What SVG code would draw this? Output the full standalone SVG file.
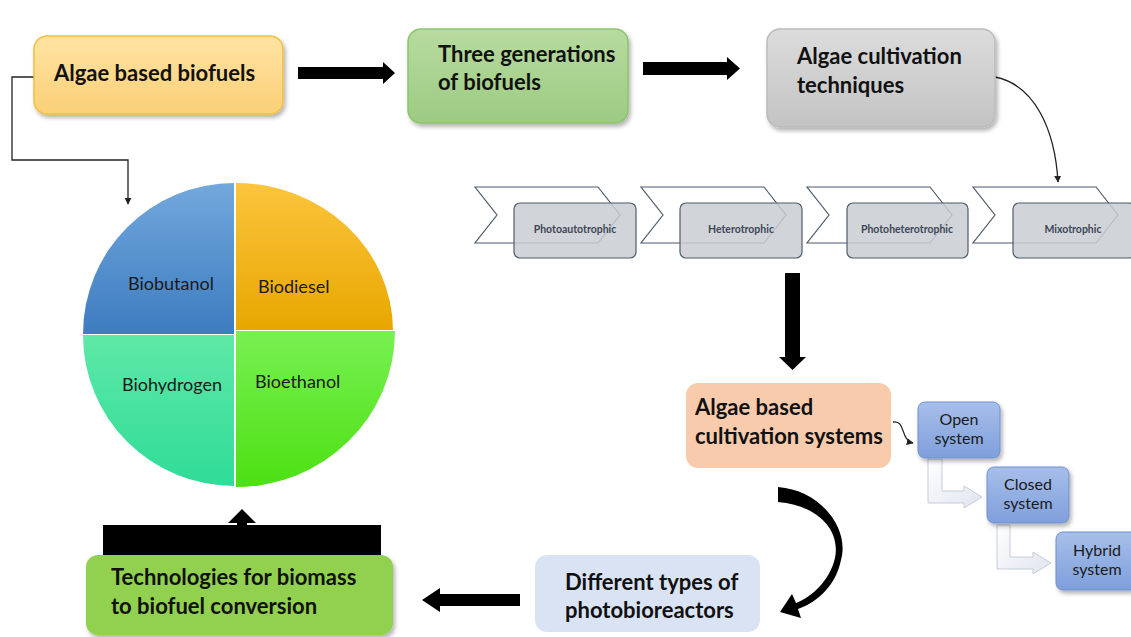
<svg xmlns="http://www.w3.org/2000/svg" width="1131" height="637" viewBox="0 0 1131 637">
<defs>
<style>
.t{font-family:Lato,"Liberation Sans",sans-serif;font-weight:bold;font-size:22px;fill:#111}
.p{font-family:Lato,"Liberation Sans",sans-serif;font-size:18px;fill:#1a1a1a}
.c{font-family:Lato,"Liberation Sans",sans-serif;font-weight:bold;font-size:10.5px;fill:#3d4757;text-anchor:middle}
.b{font-family:Lato,"Liberation Sans",sans-serif;font-size:16px;fill:#1a1a1a;text-anchor:middle}
.chev{fill:#fff;stroke:#4f5b6b;stroke-width:1.2}
.crect{fill:#c9ccd2;fill-opacity:0.85;stroke:#4f5b6b;stroke-width:1.2}
.bbox{fill:url(#gBlue);stroke:#6f8fcf;stroke-width:1}
.bent{fill:url(#gBent);stroke:#c5ccd8;stroke-width:1}
.thin{fill:none;stroke:#222;stroke-width:1.3}
</style>
<filter id="sh" x="-10%" y="-10%" width="130%" height="140%"><feDropShadow dx="2" dy="3" stdDeviation="2" flood-color="#000" flood-opacity="0.3"/></filter>
<linearGradient id="gY" x1="0" y1="0" x2="0" y2="1"><stop offset="0" stop-color="#ffe3a3"/><stop offset="1" stop-color="#fbd077"/></linearGradient>
<linearGradient id="gG" x1="0" y1="0" x2="0" y2="1"><stop offset="0" stop-color="#b7dba0"/><stop offset="1" stop-color="#9dcb82"/></linearGradient>
<linearGradient id="gS" x1="0" y1="0" x2="0" y2="1"><stop offset="0" stop-color="#dcdcdc"/><stop offset="1" stop-color="#c3c3c3"/></linearGradient>
<linearGradient id="gBlue" x1="0" y1="0" x2="0" y2="1"><stop offset="0" stop-color="#a7bfe9"/><stop offset="1" stop-color="#7f9fdc"/></linearGradient>
<linearGradient id="gBent" x1="0" y1="0" x2="1" y2="1"><stop offset="0" stop-color="#ffffff"/><stop offset="1" stop-color="#dfe4ee"/></linearGradient>
<linearGradient id="pB" x1="0" y1="0" x2="0" y2="1"><stop offset="0" stop-color="#72a8dc"/><stop offset="1" stop-color="#3d7cc0"/></linearGradient>
<linearGradient id="pO" x1="0" y1="0" x2="0" y2="1"><stop offset="0" stop-color="#fbc43c"/><stop offset="1" stop-color="#e8a700"/></linearGradient>
<linearGradient id="pG" x1="0" y1="0" x2="0" y2="1"><stop offset="0" stop-color="#78f052"/><stop offset="1" stop-color="#4ce012"/></linearGradient>
<linearGradient id="pT" x1="0" y1="0" x2="0" y2="1"><stop offset="0" stop-color="#5ee8a6"/><stop offset="1" stop-color="#2fdc98"/></linearGradient>
<marker id="ah" viewBox="0 0 10 10" refX="9" refY="5" markerWidth="7" markerHeight="7" orient="auto" markerUnits="userSpaceOnUse"><path d="M0,0 L10,5 L0,10 Z" fill="#222"/></marker>
</defs>
<rect width="1131" height="637" fill="#fff"/>

<g id="connectors">
<polyline class="thin" points="34,77 12,77 12,160 128,160 128,204" marker-end="url(#ah)"/>
<path class="thin" d="M995,77 C1035,85 1055,130 1058,182" marker-end="url(#ah)"/>
<path class="thin" d="M893,422 C906,420 900,440 913,443" marker-end="url(#ah)"/>
<path d="M298,67 L383,67 L383,62 L395,73 L383,84 L383,79 L298,79 Z" fill="#000"/>
<path d="M643,62 L727,62 L727,57 L740,68.5 L727,80 L727,75 L643,75 Z" fill="#000"/>
<path d="M785,273 L800,273 L800,357 L806,357 L792.5,370 L779,357 L785,357 Z" fill="#000"/>
<path d="M778,487 C820,490 850,528 841,560 C836,585 818,602 798,609 L801,618 L780,612 L792,594 L796,603 C812,597 830,580 835,558 C841,528 815,505 778,502 Z" fill="#000"/>
<path d="M520,594 L440,594 L440,588 L422,600 L440,612 L440,606 L520,606 Z" fill="#000"/>
<rect x="103" y="525" width="278" height="32" fill="#000"/>
<path d="M237,525 L237,523 L228,523 L242,509 L256,523 L247,523 L247,525 Z" fill="#000"/>
<path class="bent" d="M928,459 L942,459 L942,491 L964,491 L964,486 L982,497 L964,508 L964,503 L928,503 Z"/>
<path class="bent" d="M997,525 L1010,525 L1010,557 L1033,557 L1033,552 L1051,563 L1033,574 L1033,569 L997,569 Z"/>
</g>

<g id="n-algae-biofuels">
<rect x="34" y="36" width="249" height="78" rx="13" fill="url(#gY)" stroke="#f1c040" stroke-width="1.5" filter="url(#sh)"/>
<text class="t" x="54" y="81">Algae based biofuels</text>
</g>

<g id="n-three-generations">
<rect x="408" y="29" width="220" height="94" rx="13" fill="url(#gG)" stroke="#8cc46c" stroke-width="1.5" filter="url(#sh)"/>
<text class="t" x="438" y="62">Three generations</text>
<text class="t" x="438" y="90">of biofuels</text>
</g>

<g id="n-cultivation-techniques">
<rect x="767" y="29" width="228" height="98" rx="13" fill="url(#gS)" stroke="#bcbcbc" stroke-width="1.5" filter="url(#sh)"/>
<text class="t" x="797" y="64">Algae cultivation</text>
<text class="t" x="797" y="93">techniques</text>
</g>

<g id="n-photoautotrophic">
<polygon class="chev" points="475,187 598,187 620,215 598,243 475,243 497,215"/>
<rect class="crect" x="514" y="203" width="122" height="55" rx="6"/>
<text class="c" x="575" y="233">Photoautotrophic</text>
</g>
<g id="n-heterotrophic">
<polygon class="chev" points="641,187 764,187 786,215 764,243 641,243 663,215"/>
<rect class="crect" x="680" y="203" width="122" height="55" rx="6"/>
<text class="c" x="741" y="233">Heterotrophic</text>
</g>
<g id="n-photoheterotrophic">
<polygon class="chev" points="807,187 930,187 952,215 930,243 807,243 829,215"/>
<rect class="crect" x="847" y="203" width="121" height="55" rx="6"/>
<text class="c" x="907" y="233">Photoheterotrophic</text>
</g>
<g id="n-mixotrophic">
<polygon class="chev" points="973,187 1096,187 1118,215 1096,243 973,243 995,215"/>
<rect class="crect" x="1013" y="203" width="122" height="55" rx="6"/>
<text class="c" x="1073" y="233">Mixotrophic</text>
</g>

<g id="n-cultivation-systems">
<rect x="686" y="383" width="205" height="85" rx="12" fill="#f8cbad"/>
<text class="t" x="695" y="415">Algae based</text>
<text class="t" x="695" y="444">cultivation systems</text>
</g>

<g id="n-open">
<rect class="bbox" x="918" y="402" width="82" height="56" rx="7" filter="url(#sh)"/>
<text class="b" x="959" y="425">Open</text>
<text class="b" x="959" y="444">system</text>
</g>
<g id="n-closed">
<rect class="bbox" x="987" y="467" width="82" height="56" rx="7" filter="url(#sh)"/>
<text class="b" x="1028" y="490">Closed</text>
<text class="b" x="1028" y="509">system</text>
</g>
<g id="n-hybrid">
<rect class="bbox" x="1056" y="532" width="82" height="58" rx="7" filter="url(#sh)"/>
<text class="b" x="1097" y="556">Hybrid</text>
<text class="b" x="1097" y="575">system</text>
</g>

<g id="n-photobioreactors">
<rect x="535" y="555" width="225" height="77" rx="12" fill="#dae3f3"/>
<text class="t" x="565" y="590">Different types of</text>
<text class="t" x="565" y="618">photobioreactors</text>
</g>

<g id="n-technologies">
<rect x="86" y="555" width="307" height="80" rx="12" fill="#92d050" filter="url(#sh)"/>
<text class="t" x="111" y="585">Technologies for biomass</text>
<text class="t" x="111" y="614">to biofuel conversion</text>
</g>

<g id="n-pie">
<path d="M234,334 L83,334 A151,151 0 0 1 234,183 Z" fill="url(#pB)"/>
<path d="M236,330 L236,183 A157,148 0 0 1 393,330 Z" fill="url(#pO)"/>
<path d="M236,331 L395,331 A159,156 0 0 1 236,487 Z" fill="url(#pG)"/>
<path d="M234,335 L234,486 A151,151 0 0 1 83,335 Z" fill="url(#pT)"/>
<text class="p" x="128" y="290">Biobutanol</text>
<text class="p" x="258" y="293">Biodiesel</text>
<text class="p" x="122" y="391">Biohydrogen</text>
<text class="p" x="255" y="388">Bioethanol</text>
</g>
</svg>
